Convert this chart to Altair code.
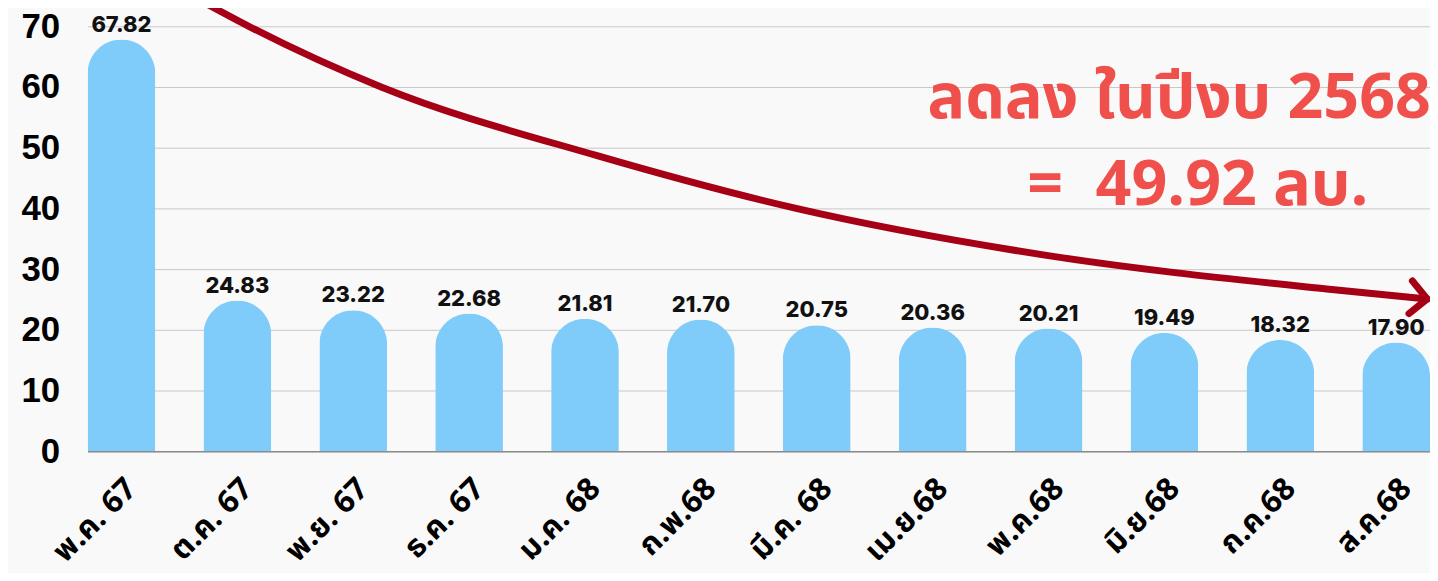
import altair as alt
import pandas as pd

months = ["พ.ค. 67", "ต.ค. 67", "พ.ย. 67", "ธ.ค. 67", "ม.ค. 68", "ก.พ.68",
          "มี.ค. 68", "เม.ย.68", "พ.ค.68", "มิ.ย.68", "ก.ค.68", "ส.ค.68"]
values = [67.82, 24.83, 23.22, 22.68, 21.81, 21.70, 20.75, 20.36, 20.21, 19.49, 18.32, 17.90]
labels = ["67.82", "24.83", "23.22", "22.68", "21.81", "21.70", "20.75", "20.36",
          "20.21", "19.49", "18.32", "17.90"]

# arrow path, x in bar-index units, y in chart units
arrow_x = [0.696, 1.099, 2.241, 4.105, 5.822, 7.969, 10.40, 11.267]
arrow_y = [74.10, 70.0, 60.0, 48.69, 40.0, 32.30, 26.72, 25.08]

note_text = ["ลดลง ในปีงบ 2568", "=\u00a0\u00a049.92 ลบ."]
note_x = [11.30, 10.76]
note_y = [54.9, 40.6]

bars_df = pd.DataFrame({"month": months, "value": values, "label": labels})
arrow_df = pd.DataFrame({"ax": arrow_x, "ay": arrow_y, "order": list(range(len(arrow_x)))})
head_df = pd.DataFrame({"ax": [arrow_x[-1]], "ay": [arrow_y[-1]]})
note_df = pd.DataFrame({"tx": note_x, "ty": note_y, "text": note_text})

THAI = "Noto Sans Thai, Noto Sans Thai UI, Kanit, Prompt, Noto Sans"

W, H = 1349, 427
yscale = alt.Scale(domain=[0, 70], nice=False)
xq = alt.Scale(domain=[-0.292, 11.292], nice=False, zero=False)

yaxis_def = alt.Axis(title=None, values=[0, 10, 20, 30, 40, 50, 60, 70],
                     labelFontSize=35, labelFontWeight="bold",
                     labelFont="Liberation Sans", labelColor="#000000",
                     labelPadding=28, ticks=False, domain=False,
                     grid=True, gridColor="#c8c8c8", gridWidth=1)

xband = alt.X("month:N", sort=None,
              scale=alt.Scale(paddingInner=0.416, paddingOuter=0, round=False),
              axis=alt.Axis(title=None, labelAngle=-45, labelFontSize=31,
                            labelFontWeight="bold", labelColor="#000000",
                            labelFont=THAI, labelPadding=22,
                            ticks=False, domain=True, domainColor="#8a8a8a",
                            domainWidth=1.5, grid=False, labelOverlap=False))

bars = alt.Chart(bars_df).mark_bar(
    color="#7fcbfa", cornerRadiusTopLeft=34, cornerRadiusTopRight=34
).encode(x=xband, y=alt.Y("value:Q", scale=yscale, axis=yaxis_def))

blabels = alt.Chart(bars_df).mark_text(
    baseline="alphabetic", dy=-8, fontSize=22, fontWeight=800,
    font="Inter", color="#111111"
).encode(x=alt.X("month:N", sort=None),
         y=alt.Y("value:Q", scale=yscale, axis=yaxis_def), text="label:N")

base_group = alt.layer(bars, blabels)

arrow = alt.Chart(arrow_df).mark_line(
    color="#a50016", strokeWidth=7, interpolate="monotone", strokeCap="round"
).encode(
    x=alt.X("ax:Q", scale=xq, axis=None),
    y=alt.Y("ay:Q", scale=yscale, axis=yaxis_def),
    order="order:O",
)

head = alt.Chart(head_df).mark_point(
    shape="M -1 -1 L 0 0 L -1 1", filled=False, stroke="#a50016",
    strokeWidth=7, size=1100, angle=6, strokeCap="round", strokeJoin="round", opacity=1
).encode(
    x=alt.X("ax:Q", scale=xq, axis=None),
    y=alt.Y("ay:Q", scale=yscale, axis=yaxis_def),
)

notes = alt.Chart(note_df).mark_text(
    align="right", baseline="alphabetic", fontSize=63, fontWeight="bold",
    font=THAI, color="#ef504b"
).encode(
    x=alt.X("tx:Q", scale=xq, axis=None),
    y=alt.Y("ty:Q", scale=yscale, axis=yaxis_def),
    text="text:N",
)

over_group = alt.layer(arrow, head, notes)

chart = alt.layer(base_group, over_group).resolve_scale(x="independent").properties(
    width=W, height=H,
    background="#f9f9f9",
    autosize=alt.AutoSizeParams(type="none"),
    padding={"left": 80, "top": 17, "right": 0, "bottom": 121},
).configure_view(stroke=None)

chart.save("out.html", embed_options={"renderer": "svg", "actions": False})
